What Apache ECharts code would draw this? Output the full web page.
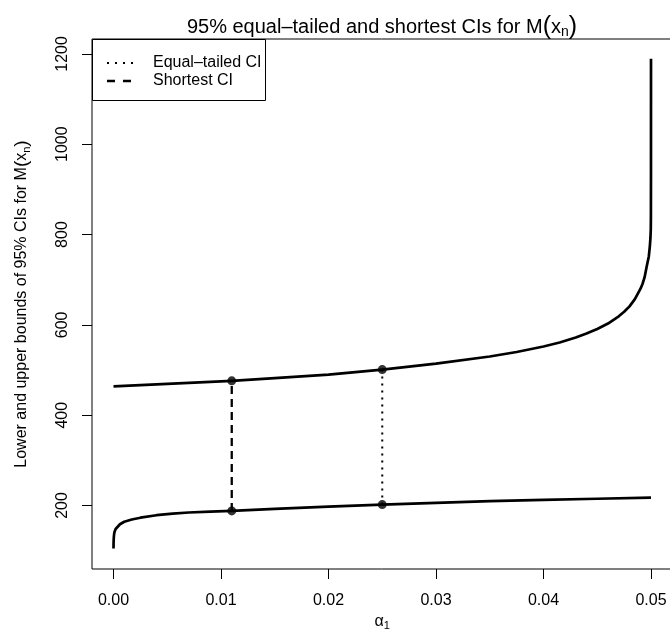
<!DOCTYPE html>
<html><head><meta charset="utf-8">
<script src="https://cdn.jsdelivr.net/npm/echarts@6/dist/echarts.min.js"></script>
<style>html,body{margin:0;padding:0;background:#fff}#c{width:670px;height:631px}</style>
</head><body><div id="c"></div>
<script>
// ---- data ----
const upperAlpha  = [0, 0.005, 0.011, 0.015, 0.02, 0.025, 0.03, 0.035, 0.0375, 0.04, 0.0415, 0.043, 0.044, 0.045, 0.046, 0.047, 0.0475, 0.048, 0.0485, 0.049, 0.0492, 0.0494, 0.0496, 0.0498, 0.0499, 0.04995, 0.04998, 0.04999, 0.049997, 0.05];
const upperValues = [464, 469.5, 476, 482, 490, 501, 514, 530, 540, 552, 561, 572, 581, 591, 603, 619, 629, 641, 657, 679, 690, 705, 729, 752, 776, 793, 812, 840, 930, 1189];
const lowerAlpha  = [0, 0.00001, 0.00003, 0.00006, 0.0001, 0.0002, 0.0003, 0.0006, 0.001, 0.0017, 0.0025, 0.004, 0.0055, 0.007, 0.009, 0.011, 0.015, 0.02, 0.025, 0.03, 0.035, 0.04, 0.045, 0.05];
const lowerValues = [105, 120, 130, 137, 142, 148, 152, 158.5, 164, 169, 173, 178.5, 182, 184.5, 186.5, 188, 192.5, 197.5, 202, 206, 209.5, 212.5, 215, 217.5];
const shortestCI    = [0.011, 188, 476];   // alpha1, lower, upper
const equalTailedCI = [0.025, 202, 501];   // alpha1, lower, upper
const xTicks = [0, 0.01, 0.02, 0.03, 0.04, 0.05];
const yTicks = [200, 400, 600, 800, 1000, 1200];
const legendLabels = ['Equal\u2013tailed CI', 'Shortest CI'];

const FONT = '"Liberation Sans", Arial, Helvetica, sans-serif';
const zip = (a, b) => a.map((v, i) => [v, b[i]]);

const chart = echarts.init(document.getElementById('c'), null, {renderer: 'canvas'});
const option = {
  animation: false,
  backgroundColor: '#fff',
  textStyle: {fontFamily: FONT, color: '#000'},
  grid: {left: 92, top: 39, width: 580.5, height: 530, show: true, borderColor: '#000', borderWidth: 1,
         backgroundColor: 'transparent', outerBoundsMode: 'none', containLabel: false},
  xAxis: {
    type: 'value', min: -0.002, max: 0.052,
    axisLine: {show: false, onZero: false}, splitLine: {show: false},
    axisTick: {show: true, length: 10, customValues: xTicks, lineStyle: {color: '#000', width: 1}},
    axisLabel: {customValues: xTicks, formatter: v => v.toFixed(2), fontSize: 16, color: '#000', margin: 24, fontFamily: FONT},
    name: '{a|\u03b1}{s|1}', nameLocation: 'middle', nameGap: 42,
    nameTextStyle: {fontFamily: FONT, rich: {a: {fontSize: 16, fontFamily: FONT, color: '#000'}, s: {fontSize: 11, fontFamily: FONT, color: '#000', padding: [9, 0, 0, 0]}}}
  },
  yAxis: {
    type: 'value', min: 59.4, max: 1233,
    axisLine: {show: false, onZero: false}, splitLine: {show: false},
    axisTick: {show: true, length: 10, customValues: yTicks, lineStyle: {color: '#000', width: 1}},
    axisLabel: {customValues: yTicks, formatter: v => String(v), rotate: 90, fontSize: 16, color: '#000', margin: 21, fontFamily: FONT},
    name: '{a|Lower and upper bounds of 95% CIs for M}{p|(}{a|x}{s|n}{p|)}', nameLocation: 'middle', nameGap: 60,
    nameTextStyle: {fontFamily: FONT, rich: {
      a: {fontSize: 16, fontFamily: FONT, color: '#000'},
      p: {fontSize: 19, fontFamily: FONT, color: '#000'},
      s: {fontSize: 11, fontFamily: FONT, color: '#000', padding: [9, 0, 0, 0]}}}
  },
  graphic: [
    {type: 'text', x: 382, y: 27, z: 10, style: {
      text: '{a|95% equal\u2013tailed and shortest CIs for M}{p|(}{a|x}{s|n}{p|)}',
      align: 'center', verticalAlign: 'middle', fontFamily: FONT,
      rich: {a: {fontSize: 20, fontFamily: FONT, fill: '#000'}, p: {fontSize: 25, fontFamily: FONT, fill: '#000'},
             s: {fontSize: 14, fontFamily: FONT, fill: '#000', padding: [11, 0, 0, 0]}}}},
    {type: 'group', z: 20, children: [
      {type: 'rect', shape: {x: 92.5, y: 39.5, width: 173, height: 61}, style: {fill: '#fff', stroke: '#000', lineWidth: 1}},
      {type: 'line', shape: {x1: 107, y1: 63, x2: 136, y2: 63}, style: {stroke: '#000', lineWidth: 2, lineDash: [2, 6]}},
      {type: 'line', shape: {x1: 107, y1: 81, x2: 132, y2: 81}, style: {stroke: '#000', lineWidth: 2.5, lineDash: [8, 8]}},
      {type: 'text', x: 153, y: 63, style: {text: legendLabels[0], fontSize: 16, fontFamily: FONT, fill: '#000', verticalAlign: 'middle'}},
      {type: 'text', x: 153, y: 81, style: {text: legendLabels[1], fontSize: 16, fontFamily: FONT, fill: '#000', verticalAlign: 'middle'}}
    ]}
  ],
  series: [
    {type: 'line', data: zip(upperAlpha, upperValues), showSymbol: false, smooth: false,
     lineStyle: {color: '#000', width: 2.7, join: 'round'}, z: 3},
    {type: 'line', data: zip(lowerAlpha, lowerValues), showSymbol: false, smooth: false,
     lineStyle: {color: '#000', width: 2.7, join: 'round'}, z: 3},
    {type: 'line', data: [[shortestCI[0], shortestCI[1]], [shortestCI[0], shortestCI[2]]], showSymbol: false,
     lineStyle: {color: '#000', width: 2.3, type: [8, 5]}, z: 2},
    {type: 'line', data: [[equalTailedCI[0], equalTailedCI[1]], [equalTailedCI[0], equalTailedCI[2]]], showSymbol: false,
     lineStyle: {color: '#000', width: 2, type: [2, 5]}, z: 2},
    {type: 'scatter', symbol: 'circle', symbolSize: 9, itemStyle: {color: '#000'}, z: 4,
     data: [[shortestCI[0], shortestCI[1]], [shortestCI[0], shortestCI[2]], [equalTailedCI[0], equalTailedCI[1]], [equalTailedCI[0], equalTailedCI[2]]]}
  ]
};
chart.setOption(option);
</script></body></html>
